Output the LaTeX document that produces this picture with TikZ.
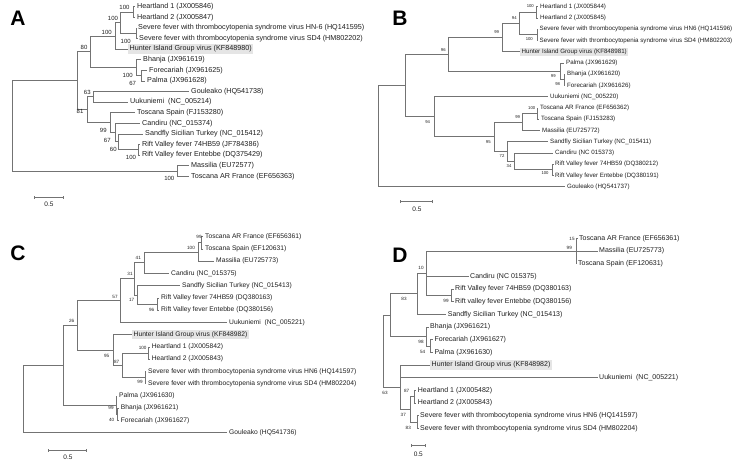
\documentclass[tikz,border=0pt]{standalone}
\usepackage{fontspec}
\setmainfont{Liberation Sans}
\definecolor{lg}{gray}{0.45}
\definecolor{tc}{gray}{0.12}
\definecolor{hb}{gray}{0.9}
\begin{document}
\begin{tikzpicture}[x=1pt,y=-1pt,
 br/.style={draw=lg,line width=0.75pt},
 leafA/.style={anchor=west,inner sep=0pt,text=tc,font=\fontsize{7.2}{8}\selectfont},
 leafB/.style={leafA,font=\fontsize{6.2}{7}\selectfont},
 leafC/.style={leafA,font=\fontsize{6.7}{7.5}\selectfont},
 leafD/.style={leafA,font=\fontsize{7}{8}\selectfont},
 hun/.style={fill=hb,inner xsep=1.5pt,inner ysep=1.3pt},
 lblA/.style={inner sep=0pt,text=tc,font=\fontsize{6}{6}\selectfont},
 lblB/.style={lblA,font=\fontsize{4.2}{4.2}\selectfont},
 lblC/.style={lblA,font=\fontsize{4.6}{4.6}\selectfont},
 lblD/.style={lblA,font=\fontsize{4.6}{4.6}\selectfont},
 panel/.style={inner sep=0pt,text=black,font=\fontsize{21}{21}\selectfont\bfseries},
 sbar/.style={draw=lg,line width=0.6pt},
 stext/.style={inner sep=0pt,text=tc,font=\fontsize{6.5}{6.5}\selectfont}]
\useasboundingbox (0,0) rectangle (750,467);
\fill[white] (0,0) rectangle (750,467);

% ================= PANEL A =================
\node[panel] (pA) at (18,18) {A};
\coordinate (aRoot) at (12.7,125.9);
\coordinate (aIn) at (77.7,80.75);
\coordinate (aOut) at (177,171);
\coordinate (a80) at (90,51.8);
\coordinate (a100a) at (115,35.9);
\coordinate (a100b) at (120,22.6);
\coordinate (aH) at (133.3,12);
\coordinate (aS) at (136.7,33.2);
\coordinate (aB) at (136.7,67.65);
\coordinate (aFP) at (141.7,75.6);
\coordinate (a81) at (87,109.7);
\coordinate (a63) at (93.3,96.8);
\coordinate (a99) at (110,122.65);
\coordinate (a67) at (115,132.6);
\coordinate (a60) at (118,141.85);
\coordinate (aR) at (138.3,149.8);

\node[leafA] (aL1) at (137,6.7) {Heartland 1 (JX005846)};
\node[leafA] (aL2) at (137,17.3) {Heartland 2 (JX005847)};
\node[leafA] (aL3) at (138,27.9) {Severe fever with thrombocytopenia syndrome virus HN-6 (HQ141595)};
\node[leafA] (aL4) at (139,38.5) {Severe fever with thrombocytopenia syndrome virus SD4 (HM802202)};
\node[leafA,hun] (aL5) at (128,49.1) {Hunter Island Group virus (KF848980)};
\node[leafA] (aL6) at (143,59.7) {Bhanja (JX961619)};
\node[leafA] (aL7) at (149,70.3) {Forecariah (JX961625)};
\node[leafA] (aL8) at (147,80.9) {Palma (JX961628)};
\node[leafA] (aL9) at (191,91.5) {Gouleako (HQ541738)};
\node[leafA] (aL10) at (130,102.1) {Uukuniemi\ \ (NC\_005214)};
\node[leafA] (aL11) at (137,112.7) {Toscana Spain (FJ153280)};
\node[leafA] (aL12) at (142,123.3) {Candiru (NC\_015374)};
\node[leafA] (aL13) at (145,133.9) {Sandfly Sicilian Turkey (NC\_015412)};
\node[leafA] (aL14) at (142,144.5) {Rift Valley fever 74HB59 (JF784386)};
\node[leafA] (aL15) at (142,155.1) {Rift Valley fever Entebbe (DQ375429)};
\node[leafA] (aL16) at (191,165.7) {Massilia (EU72577)};
\node[leafA] (aL17) at (191,176.3) {Toscana AR France (EF656363)};

\foreach \p/\c in {aRoot/aIn,aRoot/aOut,aIn/a80,aIn/a81,a80/a100a,a80/aB,a100a/a100b,a100b/aH,a100b/aS,aB/aFP,a81/a63,a81/a99,a99/a67,a67/a60,a60/aR}
  \draw[br] (\p) |- (\c);
\foreach \p/\c in {aH/aL1,aH/aL2,aS/aL3,aS/aL4,aB/aL6,aFP/aL7,aFP/aL8,a63/aL9,a63/aL10,a99/aL11,a67/aL12,a60/aL13,aR/aL14,aR/aL15,aOut/aL16,aOut/aL17}
  \draw[br] (\p) |- ([xshift=-2pt]\c.west);
\draw[br] (a100a) |- (aL5.west);

\foreach \x/\y/\t [count=\i] in {124.5/7/100,113/18.3/100,106.7/32.3/100,125.7/41.5/100,84/47.7/80,127.7/75/100,132.7/83.3/67,87.3/92.7/63,80/111.5/81,103.3/130.7/99,107.3/140/67,113.3/149.3/60,131/157.3/100,169.3/178.3/100}
  \node[lblA] (laA\i) at (\x,\y) {\t};

\coordinate (sa1) at (34.3,197.3);
\coordinate (sa2) at (63.3,197.3);
\draw[sbar] (sa1) -- (sa2);
\draw[sbar] ([yshift=-1.5pt]sa1) -- ([yshift=1.5pt]sa1);
\draw[sbar] ([yshift=-1.5pt]sa2) -- ([yshift=1.5pt]sa2);
\node[stext] (saT) at (49,204.5) {0.5};

% ================= PANEL B =================
\node[panel] (pB) at (400,18) {B};
\coordinate (bRoot) at (378,136.2);
\coordinate (bUp) at (405.7,85.6);
\coordinate (b96) at (448.3,54.5);
\coordinate (b99) at (502.7,37.6);
\coordinate (b94a) at (519,23.6);
\coordinate (bH) at (536.7,12.3);
\coordinate (bS) at (537.3,34.8);
\coordinate (bP) at (560.7,71.4);
\coordinate (bBF) at (564,79.8);
\coordinate (b94) at (434.3,116.7);
\coordinate (b95) at (494.3,136.8);
\coordinate (bT) at (522.7,122);
\coordinate (bTP) at (537.3,113.6);
\coordinate (b72) at (507.7,151.6);
\coordinate (b34) at (514.3,161.4);
\coordinate (bR) at (552.7,169.8);

\node[leafB] (bL1) at (540,6.7) {Heartland 1 (JX005844)};
\node[leafB] (bL2) at (540,17.95) {Heartland 2 (JX005845)};
\node[leafB] (bL3) at (539.5,29.2) {Severe fever with thrombocytopenia syndrome virus HN6 (HQ141596)};
\node[leafB] (bL4) at (539.5,40.45) {Severe fever with thrombocytopenia syndrome virus SD4 (HM802203)};
\node[leafB,hun] (bL5) at (520,51.7) {Hunter Island Group virus (KF848981)};
\node[leafB] (bL6) at (566,62.95) {Palma (JX961629)};
\node[leafB] (bL7) at (567,74.2) {Bhanja (JX961620)};
\node[leafB] (bL8) at (567,85.45) {Forecariah (JX961626)};
\node[leafB] (bL9) at (550,96.7) {Uukuniemi (NC\_005220)};
\node[leafB] (bL10) at (540,107.95) {Toscana AR France (EF656362)};
\node[leafB] (bL11) at (541,119.2) {Toscana Spain (FJ153283)};
\node[leafB] (bL12) at (542,130.45) {Massilia (EU725772)};
\node[leafB] (bL13) at (550,141.7) {Sandfly Sicilian Turkey (NC\_015411)};
\node[leafB] (bL14) at (555,152.95) {Candiru (NC 015373)};
\node[leafB] (bL15) at (555,164.2) {Rift Valley fever 74HB59 (DQ380212)};
\node[leafB] (bL16) at (555,175.45) {Rift Valley fever Entebbe (DQ380191)};
\node[leafB] (bL17) at (567,186.7) {Gouleako (HQ541737)};

\foreach \p/\c in {bRoot/bUp,bUp/b96,bUp/b94,b96/b99,b96/bP,b99/b94a,b94a/bH,b94a/bS,bP/bBF,b94/b95,b95/bT,b95/b72,bT/bTP,b72/b34,b34/bR}
  \draw[br] (\p) |- (\c);
\foreach \p/\c in {bRoot/bL17,bH/bL1,bH/bL2,bS/bL3,bS/bL4,bP/bL6,bBF/bL7,bBF/bL8,b94/bL9,bTP/bL10,bTP/bL11,bT/bL12,b72/bL13,b34/bL14,bR/bL15,bR/bL16}
  \draw[br] (\p) |- ([xshift=-2pt]\c.west);
\draw[br] (b99) |- (bL5.west);

\foreach \x/\y/\t [count=\i] in {530.3/6/100,514.3/18.3/94,496.7/32.3/99,529.3/39.3/100,443.3/50/96,553.3/76/99,557.7/84.3/98,531.7/108.3/100,517.7/117.3/99,427.7/122/94,488.3/141.7/95,502/156/72,509/166/34,545/172.7/100}
  \node[lblB] (laB\i) at (\x,\y) {\t};

\coordinate (sb1) at (400,201.7);
\coordinate (sb2) at (432.3,201.7);
\draw[sbar] (sb1) -- (sb2);
\draw[sbar] ([yshift=-1.5pt]sb1) -- ([yshift=1.5pt]sb1);
\draw[sbar] ([yshift=-1.5pt]sb2) -- ([yshift=1.5pt]sb2);
\node[stext] (sbT) at (417,209) {0.5};

% ================= PANEL C =================
\node[panel] (pC) at (18,253) {C};
\coordinate (cRoot) at (23.3,398.95);
\coordinate (cUp) at (63.3,365.2);
\coordinate (c26) at (77.3,325.3);
\coordinate (c57) at (120,300.6);
\coordinate (c31) at (134,278.8);
\coordinate (c41) at (144,262.7);
\coordinate (cT) at (198,252);
\coordinate (cTP) at (201.7,242.8);
\coordinate (c17) at (137,294.9);
\coordinate (cR) at (157,304.1);
\coordinate (c95) at (113.3,350);
\coordinate (c87) at (122.7,365.3);
\coordinate (cH) at (148.3,353.1);
\coordinate (cS) at (145,377.6);
\coordinate (cP) at (116,405.1);
\coordinate (cBF) at (117.3,414.3);

\node[leafC] (cL1) at (205,236.7) {Toscana AR France (EF656361)};
\node[leafC] (cL2) at (205,248.95) {Toscana Spain (EF120631)};
\node[leafC] (cL3) at (216,261.2) {Massilia (EU725773)};
\node[leafC] (cL4) at (171,273.45) {Candiru (NC\_015375)};
\node[leafC] (cL5) at (182,285.7) {Sandfly Sicilian Turkey (NC\_015413)};
\node[leafC] (cL6) at (161,297.95) {Rift Valley fever 74HB59 (DQ380163)};
\node[leafC] (cL7) at (161,310.2) {Rift Valley fever Entebbe (DQ380156)};
\node[leafC] (cL8) at (229,322.45) {Uukuniemi\ \ (NC\_005221)};
\node[leafC,hun] (cL9) at (132,334.7) {Hunter Island Group virus (KF848982)};
\node[leafC] (cL10) at (151.7,346.95) {Heartland 1 (JX005842)};
\node[leafC] (cL11) at (151.7,359.2) {Heartland 2 (JX005843)};
\node[leafC] (cL12) at (148,371.45) {Severe fever with thrombocytopenia syndrome virus HN6 (HQ141597)};
\node[leafC] (cL13) at (148,383.7) {Severe fever with thrombocytopenia syndrome virus SD4 (HM802204)};
\node[leafC] (cL14) at (119,395.95) {Palma (JX961630)};
\node[leafC] (cL15) at (120.7,408.2) {Bhanja (JX961621)};
\node[leafC] (cL16) at (120.7,420.45) {Forecariah (JX961627)};
\node[leafC] (cL17) at (229,432.7) {Gouleako (HQ541736)};

\foreach \p/\c in {cRoot/cUp,cUp/c26,cUp/cP,c26/c57,c26/c95,c57/c31,c31/c41,c31/c17,c41/cT,cT/cTP,c17/cR,c95/c87,c87/cH,c87/cS,cP/cBF}
  \draw[br] (\p) |- (\c);
\foreach \p/\c in {cRoot/cL17,cTP/cL1,cTP/cL2,cT/cL3,c41/cL4,c17/cL5,cR/cL6,cR/cL7,c57/cL8,cH/cL10,cH/cL11,cS/cL12,cS/cL13,cP/cL14,cBF/cL15,cBF/cL16}
  \draw[br] (\p) |- ([xshift=-2pt]\c.west);
\draw[br] (c95) |- (cL9.west);

\foreach \x/\y/\t [count=\i] in {199/236.7/99,191/247.7/100,138.3/258.3/41,130/274.3/31,131.7/300/17,151.7/310/96,115/296.7/57,71.7/321/26,142.7/348.3/100,106.7/355.7/95,116.7/362.3/87,140/381.7/99,111/408.3/99,111.7/420/40}
  \node[lblC] (laC\i) at (\x,\y) {\t};

\coordinate (sc1) at (48.3,450);
\coordinate (sc2) at (86.7,450);
\draw[sbar] (sc1) -- (sc2);
\draw[sbar] ([yshift=-1.5pt]sc1) -- ([yshift=1.5pt]sc1);
\draw[sbar] ([yshift=-1.5pt]sc2) -- ([yshift=1.5pt]sc2);
\node[stext] (scT) at (68,457) {0.5};

% ================= PANEL D =================
\node[panel] (pD) at (400,255) {D};
\coordinate (dRoot) at (383.3,351.1);
\coordinate (dUp) at (390,315.1);
\coordinate (d83) at (417.7,293.7);
\coordinate (d10) at (426.7,273);
\coordinate (dT) at (576,251);
\coordinate (dR) at (451.7,295.3);
\coordinate (dB) at (426.7,336.5);
\coordinate (dBF) at (430,346);
\coordinate (dLow) at (400,387.15);
\coordinate (d37) at (410,409.3);
\coordinate (dH) at (414.3,396.65);
\coordinate (dS) at (417.7,421.95);

\node[leafD] (dL1) at (579,238.3) {Toscana AR France (EF656361)};
\node[leafD] (dL2) at (599,251) {Massilia (EU725773)};
\node[leafD] (dL3) at (578,263.6) {Toscana Spain (EF120631)};
\node[leafD] (dL4) at (470,276.3) {Candiru (NC 015375)};
\node[leafD] (dL5) at (455,289) {Rift Valley fever 74HB59 (DQ380163)};
\node[leafD] (dL6) at (455,301.6) {Rift valley fever Entebbe (DQ380156)};
\node[leafD] (dL7) at (447.7,314.3) {Sandfly Sicilian Turkey (NC\_015413)};
\node[leafD] (dL8) at (430,327) {Bhanja (JX961621)};
\node[leafD] (dL9) at (434.3,339.6) {Forecariah (JX961627)};
\node[leafD] (dL10) at (434.3,352.3) {Palma (JX961630)};
\node[leafD,hun] (dL11) at (430,365) {Hunter Island Group virus (KF848982)};
\node[leafD] (dL12) at (599,377.6) {Uukuniemi\ \ (NC\_005221)};
\node[leafD] (dL13) at (417.7,390.3) {Heartland 1 (JX005482)};
\node[leafD] (dL14) at (417.7,403) {Heartland 2 (JX005843)};
\node[leafD] (dL15) at (420,415.6) {Severe fever with thrombocytopenia syndrome virus HN6 (HQ141597)};
\node[leafD] (dL16) at (420,428.3) {Severe fever with thrombocytopenia syndrome virus SD4 (HM802204)};

\foreach \p/\c in {dRoot/dUp,dRoot/dLow,dUp/d83,dUp/dB,d83/d10,d10/dT,d10/dR,dB/dBF,dLow/d37,d37/dH,d37/dS}
  \draw[br] (\p) |- (\c);
\foreach \p/\c in {dT/dL1,dT/dL2,dT/dL3,d10/dL4,dR/dL5,dR/dL6,d83/dL7,dB/dL8,dBF/dL9,dBF/dL10,dLow/dL12,dH/dL13,dH/dL14,dS/dL15,dS/dL16}
  \draw[br] (\p) |- ([xshift=-1.5pt]\c.west);
\draw[br] (dLow) |- (dL11.west);

\foreach \x/\y/\t [count=\i] in {572/239/15,569.3/248.3/99,421/268.3/10,404/299.3/83,446/300.7/99,421/341.7/98,422.7/351.7/54,385/393.3/63,406.7/390.7/87,403.3/415/37,408.3/427.7/83}
  \node[lblD] (laD\i) at (\x,\y) {\t};

\coordinate (sd1) at (411,445.7);
\coordinate (sd2) at (425,445.7);
\draw[sbar] (sd1) -- (sd2);
\draw[sbar] ([yshift=-1.5pt]sd1) -- ([yshift=1.5pt]sd1);
\draw[sbar] ([yshift=-1.5pt]sd2) -- ([yshift=1.5pt]sd2);
\node[stext] (sdT) at (418.3,454.5) {0.5};
\end{tikzpicture}
\end{document}
